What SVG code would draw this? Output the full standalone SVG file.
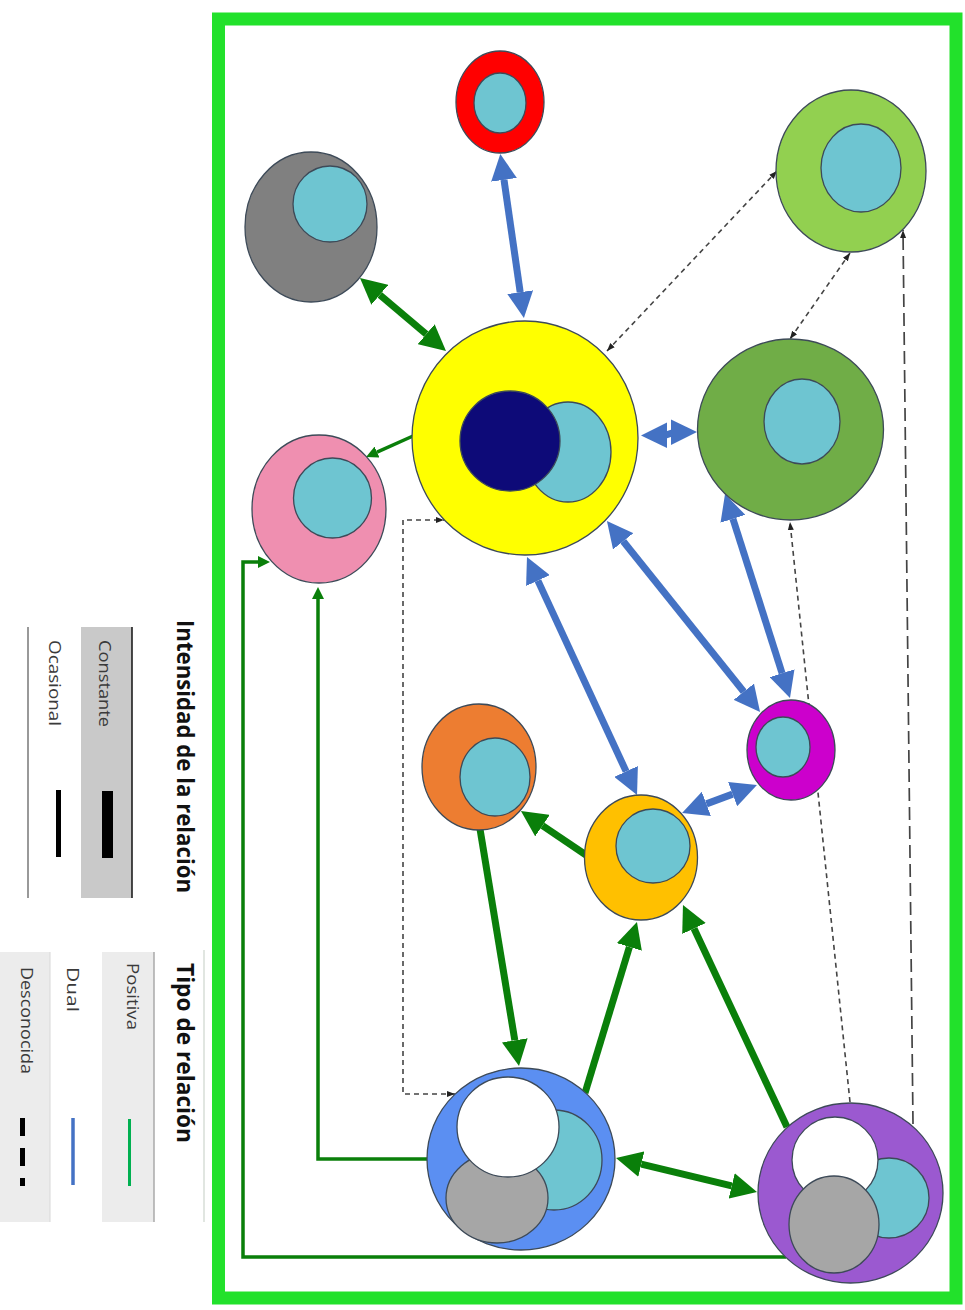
<svg xmlns="http://www.w3.org/2000/svg" width="965" height="1310" viewBox="0 0 965 1310">
<defs>
<style>
.nd{stroke:#3d4a58;stroke-width:1.3}
.cy{fill:#6ec5d1}
.gr{fill:#a6a6a6}
.wh{fill:#ffffff}
.blue{stroke:#4472c4;stroke-width:7;fill:none}
.grn{stroke:#0a7f0a;stroke-width:7;fill:none}
.grnT{stroke:#0a7f0a;stroke-width:3.5;fill:none}
.dash{stroke:#444;stroke-width:1.6;fill:none;stroke-dasharray:5 4}
.ldash{stroke:#444;stroke-width:1.7;fill:none;stroke-dasharray:13 6}
.ttl{font-family:"Open Sans","Liberation Sans",sans-serif;font-weight:bold;font-size:23px;fill:#111}
.lbl{font-family:"Open Sans","Liberation Sans",sans-serif;font-size:17px;fill:#3a3a3a}
</style>
<marker id="bh" viewBox="0 0 26 26" refX="0" refY="13" markerWidth="26" markerHeight="26" markerUnits="userSpaceOnUse" orient="auto-start-reverse"><path d="M0,0 L26,13 L0,26 z" fill="#4472c4"/></marker>
<marker id="gh" viewBox="0 0 26 26" refX="0" refY="13" markerWidth="26" markerHeight="26" markerUnits="userSpaceOnUse" orient="auto-start-reverse"><path d="M0,0 L26,13 L0,26 z" fill="#0a7f0a"/></marker>
<marker id="gs" viewBox="0 0 12 12" refX="0" refY="6" markerWidth="12" markerHeight="12" markerUnits="userSpaceOnUse" orient="auto-start-reverse"><path d="M0,0 L12,6 L0,12 z" fill="#0a7f0a"/></marker>
<marker id="dh" viewBox="0 0 8 8" refX="8" refY="4" markerWidth="8" markerHeight="8" markerUnits="userSpaceOnUse" orient="auto-start-reverse"><path d="M0,1 L8,4 L0,7 z" fill="#222"/></marker>
</defs>
<rect width="965" height="1310" fill="#ffffff"/>

<g id="legend">
<rect x="81" y="627" width="51" height="271" fill="#c9c9c9"/>
<line x1="132" y1="627" x2="132" y2="898" stroke="#111" stroke-width="1.5"/>
<line x1="28" y1="627" x2="28" y2="898" stroke="#777" stroke-width="1.5"/>
<rect x="102" y="791" width="11" height="67" fill="#000"/>
<rect x="56" y="790" width="5" height="67" fill="#000"/>
<text class="ttl" transform="translate(176.5,620) rotate(90)" textLength="273" lengthAdjust="spacingAndGlyphs">Intensidad de la relación</text>
<text class="lbl" transform="translate(98.5,640) rotate(90)" textLength="87" lengthAdjust="spacingAndGlyphs">Constante</text>
<text class="lbl" transform="translate(48.5,640) rotate(90)" textLength="86" lengthAdjust="spacingAndGlyphs">Ocasional</text>

<line x1="204" y1="950" x2="204" y2="1222" stroke="#cdd6cd" stroke-width="1.2"/>
<rect x="102" y="952" width="52" height="270" fill="#ececec"/>
<line x1="154" y1="952" x2="154" y2="1222" stroke="#aaa" stroke-width="1.5"/>
<rect x="0" y="952" width="50" height="270" fill="#ececec"/>
<line x1="50" y1="952" x2="50" y2="1222" stroke="#d8d8d8" stroke-width="1"/>
<text class="ttl" transform="translate(176.5,963) rotate(90)" textLength="180" lengthAdjust="spacingAndGlyphs">Tipo de relación</text>
<text class="lbl" transform="translate(126.5,963) rotate(90)" textLength="67" lengthAdjust="spacingAndGlyphs">Positiva</text>
<text class="lbl" transform="translate(66.7,967) rotate(90)" textLength="45" lengthAdjust="spacingAndGlyphs">Dual</text>
<text class="lbl" transform="translate(20.5,967) rotate(90)" textLength="107" lengthAdjust="spacingAndGlyphs">Desconocida</text>
<line x1="129.5" y1="1119" x2="129.5" y2="1186" stroke="#00b050" stroke-width="3"/>
<line x1="73" y1="1118" x2="73" y2="1185" stroke="#4472c4" stroke-width="3.5"/>
<line x1="22.5" y1="1118" x2="22.5" y2="1186" stroke="#000" stroke-width="5" stroke-dasharray="18 12"/>
</g>

<rect id="frame" x="218.5" y="19" width="737.5" height="1279" fill="none" stroke="#22e12b" stroke-width="13"/>

<g id="connectors">
<line class="dash" x1="607" y1="351" x2="777" y2="171" marker-start="url(#dh)" marker-end="url(#dh)"/>
<line class="dash" x1="850" y1="253" x2="790" y2="339" marker-start="url(#dh)" marker-end="url(#dh)"/>
<line class="ldash" x1="913" y1="1124" x2="903" y2="230" marker-end="url(#dh)"/>
<line class="dash" x1="850" y1="1102" x2="790" y2="522" marker-end="url(#dh)"/>
<path class="dash" d="M455,1094 H403 V520 H444" marker-start="url(#dh)" marker-end="url(#dh)"/>
<line class="blue" x1="504" y1="179.8" x2="520.2" y2="292.2" marker-start="url(#bh)" marker-end="url(#bh)"/>
<line class="blue" x1="623.2" y1="541.3" x2="743.8" y2="691.7" marker-start="url(#bh)" marker-end="url(#bh)"/>
<line class="blue" x1="732.9" y1="518.8" x2="782.1" y2="673.2" marker-start="url(#bh)" marker-end="url(#bh)"/>
<line class="blue" x1="537.9" y1="580.6" x2="626.1" y2="771.4" marker-start="url(#bh)" marker-end="url(#bh)"/>
<line class="blue" x1="732.6" y1="794.1" x2="706.4" y2="803.9" marker-start="url(#bh)" marker-end="url(#bh)"/>
<polygon points="641,435.5 667,422.5 667,448" fill="#4472c4"/>
<polygon points="697,432 671,419.5 671,445" fill="#4472c4"/>
<line x1="666" y1="435" x2="672" y2="433" stroke="#4472c4" stroke-width="7"/>
<line class="grn" x1="379.8" y1="294.8" x2="426.2" y2="334.2" marker-start="url(#gh)" marker-end="url(#gh)"/>
<line class="grn" x1="586" y1="855" x2="542.5" y2="825.6" marker-end="url(#gh)"/>
<line class="grn" x1="480" y1="829" x2="514.8" y2="1040.3" marker-end="url(#gh)"/>
<line class="grn" x1="585" y1="1093" x2="629.4" y2="946.9" marker-end="url(#gh)"/>
<line class="grn" x1="787" y1="1127" x2="694" y2="928.5" marker-end="url(#gh)"/>
<line class="grn" x1="641.3" y1="1164.1" x2="731.7" y2="1185.9" marker-start="url(#gh)" marker-end="url(#gh)"/>
<line class="grnT" x1="413" y1="436" x2="377" y2="452.1" marker-end="url(#gs)"/>
<path class="grnT" d="M428,1159 H318 V599" marker-end="url(#gs)"/>
<path class="grnT" d="M786,1257 H243 V562 H258" marker-end="url(#gs)"/>
</g>

<g id="n-red"><ellipse class="nd" cx="500" cy="102" rx="44" ry="51" fill="#ff0000"/><ellipse class="nd cy" cx="500" cy="103" rx="26" ry="30"/></g>
<g id="n-gray"><ellipse class="nd" cx="311" cy="227" rx="66" ry="75" fill="#808080"/><ellipse class="nd cy" cx="330" cy="204" rx="37" ry="38"/></g>
<g id="n-lightgreen"><ellipse class="nd" cx="851" cy="171" rx="75" ry="81" fill="#92d050"/><ellipse class="nd cy" cx="861" cy="168" rx="40" ry="44"/></g>
<g id="n-yellow"><ellipse class="nd" cx="525" cy="438" rx="113" ry="117" fill="#ffff00" stroke="#6b6a2a"/><ellipse class="nd cy" cx="568" cy="452" rx="43" ry="50"/><circle class="nd" cx="510" cy="441" r="50" fill="#0d0a78"/></g>
<g id="n-darkgreen"><ellipse class="nd" cx="790.5" cy="429.5" rx="93" ry="90.5" fill="#70ad47"/><ellipse class="nd cy" cx="802" cy="421.5" rx="38" ry="42.5"/></g>
<g id="n-pink"><ellipse class="nd" cx="319" cy="509" rx="67" ry="74" fill="#ef8fb0"/><ellipse class="nd cy" cx="332.5" cy="498" rx="39" ry="40"/></g>
<g id="n-magenta"><ellipse class="nd" cx="791" cy="750" rx="44" ry="50" fill="#cc00cc"/><ellipse class="nd cy" cx="783" cy="747" rx="27" ry="30"/></g>
<g id="n-orange"><ellipse class="nd" cx="479" cy="767" rx="57" ry="63" fill="#ed7d31"/><ellipse class="nd cy" cx="495" cy="777" rx="35" ry="39"/></g>
<g id="n-gold"><ellipse class="nd" cx="641" cy="857.5" rx="56.5" ry="62.5" fill="#ffc000"/><ellipse class="nd cy" cx="653" cy="846" rx="37" ry="37"/></g>
<g id="n-blue"><ellipse class="nd" cx="521" cy="1159" rx="94" ry="91" fill="#5b8ff2"/><ellipse class="nd cy" cx="554" cy="1160" rx="48" ry="50"/><ellipse class="nd gr" cx="497" cy="1198" rx="51" ry="45"/><ellipse class="nd wh" cx="508" cy="1127" rx="51" ry="50"/></g>
<g id="n-purple"><ellipse class="nd" cx="850.5" cy="1193" rx="92.5" ry="90" fill="#9b59d0"/><ellipse class="nd cy" cx="889" cy="1198" rx="40" ry="40"/><ellipse class="nd wh" cx="835" cy="1160" rx="43" ry="43"/><ellipse class="nd gr" cx="834" cy="1224.5" rx="45" ry="48.5"/></g>
</svg>
